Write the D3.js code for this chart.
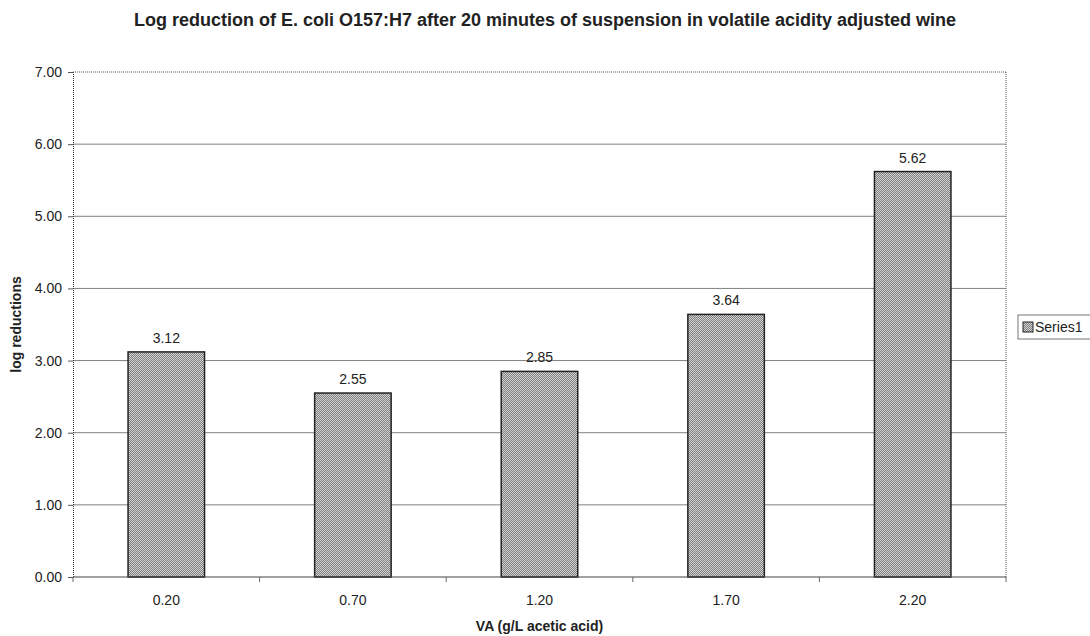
<!DOCTYPE html>
<html>
<head>
<meta charset="utf-8">
<script src="https://cdn.jsdelivr.net/npm/d3@7"></script>
<style>
  body { margin: 0; background: #fff; }
  text { font-family: "Liberation Sans", Arial, sans-serif; fill: #222; }
</style>
</head>
<body>
<div id="chart"></div>
<script>
// chart data
const categories = ['0.20', '0.70', '1.20', '1.70', '2.20'];
const values = [3.12, 2.55, 2.85, 3.64, 5.62];
const yTicks = [0, 1, 2, 3, 4, 5, 6, 7];
const seriesName = 'Series1';

const W = 1090, H = 636;
const margin = {top: 72, right: 84, bottom: 59, left: 73};
const width = W - margin.left - margin.right;
const height = H - margin.top - margin.bottom;

const svg = d3.select('#chart').append('svg')
    .attr('width', W)
    .attr('height', H);

// checkered fill like the old excel print
const defs = svg.append('defs');
const pat = defs.append('pattern')
    .attr('id', 'checker')
    .attr('width', 2).attr('height', 2)
    .attr('patternUnits', 'userSpaceOnUse');
pat.append('rect').attr('width', 2).attr('height', 2).attr('fill', '#d2d2d2');
pat.append('rect').attr('width', 1).attr('height', 1).attr('fill', '#808080');
pat.append('rect').attr('x', 1).attr('y', 1).attr('width', 1).attr('height', 1).attr('fill', '#808080');

const g = svg.append('g')
    .attr('transform', `translate(${margin.left}, ${margin.top})`);

const x = d3.scaleBand().domain(categories).range([0, width]).paddingInner(0.59).paddingOuter(0.295);
const xOuter = d3.scaleBand().domain(categories).range([0, width]);
const y = d3.scaleLinear().domain([0, 7]).range([height, 0]);

// gridlines
g.append('g')
    .selectAll('line')
    .data(yTicks.slice(1, -1))
    .enter().append('line')
    .attr('x1', 0).attr('x2', width)
    .attr('y1', d => y(d)).attr('y2', d => y(d))
    .attr('stroke', '#808080').attr('stroke-width', 1);

// dotted top + right border
g.append('line')
    .attr('x1', 0).attr('x2', width).attr('y1', y(7)).attr('y2', y(7))
    .attr('stroke', '#555').attr('stroke-dasharray', '1,1');
g.append('line')
    .attr('x1', width).attr('x2', width).attr('y1', 0).attr('y2', height)
    .attr('stroke', '#555').attr('stroke-dasharray', '1,1');

// bars
g.selectAll('.bar')
    .data(values)
    .enter().append('rect')
    .attr('class', 'bar')
    .attr('x', (d, i) => x(categories[i]))
    .attr('y', d => y(d))
    .attr('width', x.bandwidth())
    .attr('height', d => height - y(d))
    .attr('fill', 'url(#checker)')
    .attr('stroke', '#222').attr('stroke-width', 1.5);

// value labels
g.selectAll('.lbl')
    .data(values)
    .enter().append('text')
    .attr('class', 'lbl')
    .attr('x', (d, i) => x(categories[i]) + x.bandwidth() / 2)
    .attr('y', d => y(d) - 9)
    .attr('text-anchor', 'middle')
    .style('font-size', '14px')
    .text(d => d.toFixed(2));

// y axis
const yAxis = g.append('g')
    .call(d3.axisLeft(y).tickValues(yTicks).tickFormat(d3.format('.2f')).tickSizeOuter(0).tickSize(5).tickPadding(6));
yAxis.select('.domain').attr('stroke', '#333').attr('stroke-dasharray', '1,1');
yAxis.selectAll('.tick line').attr('stroke', '#555');
yAxis.selectAll('text').style('font-size', '14px').attr('fill', '#222');

// x axis, ticks on band boundaries
const xAxis = g.append('g').attr('transform', `translate(0, ${height})`);
xAxis.append('line').attr('x1', 0).attr('x2', width).attr('stroke', '#444').attr('stroke-width', 1.2);
xAxis.selectAll('.tk')
    .data(categories.concat(['end']))
    .enter().append('line')
    .attr('x1', (d, i) => i < categories.length ? xOuter(d) : width)
    .attr('x2', (d, i) => i < categories.length ? xOuter(d) : width)
    .attr('y1', 0).attr('y2', 5)
    .attr('stroke', '#666');
xAxis.selectAll('.xl')
    .data(categories)
    .enter().append('text')
    .attr('x', d => xOuter(d) + xOuter.bandwidth() / 2)
    .attr('y', 28)
    .attr('text-anchor', 'middle')
    .style('font-size', '14px')
    .text(d => d);

// titles
svg.append('text')
    .attr('x', 545).attr('y', 26)
    .attr('text-anchor', 'middle')
    .attr('textLength', 822).attr('lengthAdjust', 'spacingAndGlyphs')
    .style('font-size', '17.5px').style('font-weight', 'bold')
    .text('Log reduction of E. coli O157:H7 after 20 minutes of suspension in volatile acidity adjusted wine');

svg.append('text')
    .attr('x', margin.left + width / 2).attr('y', 631)
    .attr('text-anchor', 'middle')
    .style('font-size', '14px').style('font-weight', 'bold')
    .text('VA (g/L acetic acid)');

svg.append('text')
    .attr('transform', `translate(21, ${margin.top + height / 2}) rotate(-90)`)
    .attr('text-anchor', 'middle')
    .style('font-size', '14px').style('font-weight', 'bold')
    .text('log reductions');

// legend
const leg = svg.append('g').attr('transform', 'translate(1018, 315)');
leg.append('rect').attr('width', 80).attr('height', 24)
    .attr('fill', '#fff').attr('stroke', '#777');
leg.append('rect').attr('x', 5).attr('y', 7).attr('width', 10).attr('height', 10)
    .attr('fill', 'url(#checker)').attr('stroke', '#222');
leg.append('text').attr('x', 17).attr('y', 17)
    .style('font-size', '14px')
    .text(seriesName);
</script>
</body>
</html>
